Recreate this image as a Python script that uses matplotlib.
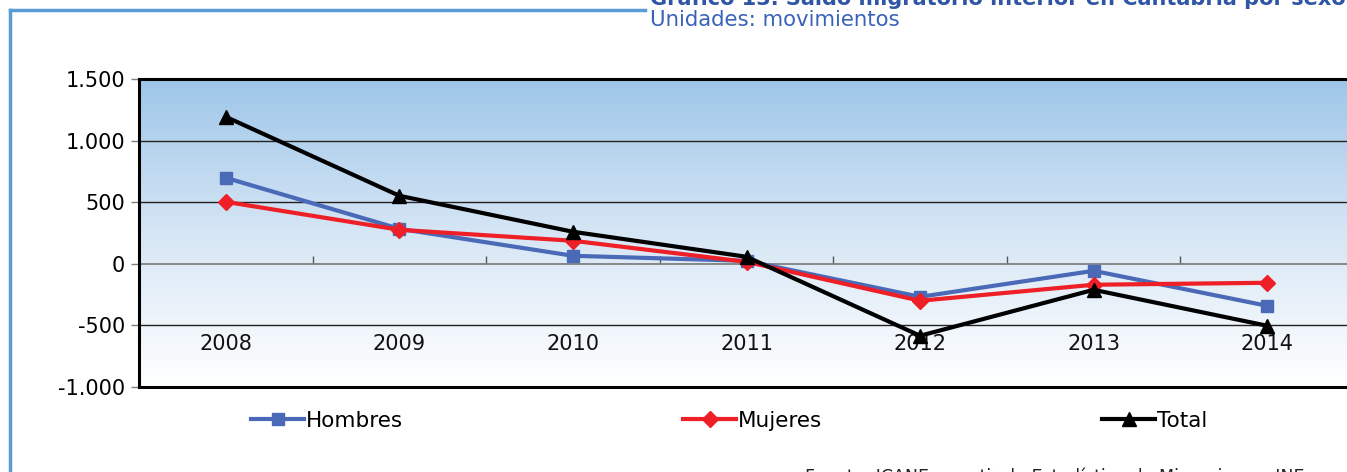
import matplotlib
matplotlib.use("Agg")
import matplotlib.pyplot as plt
from matplotlib.lines import Line2D
from matplotlib.colors import LinearSegmentedColormap
import numpy as np

years = ["2008", "2009", "2010", "2011", "2012", "2013", "2014"]
hombres = [698, 284, 65, 24, -268, -57, -341]
mujeres = [503, 276, 187, 16, -300, -170, -154]
total = [1193, 552, 260, 57, -584, -211, -503]
yticks = [-1000, -500, 0, 500, 1000, 1500]
ytick_labels = ["-1.000", "-500", "0", "500", "1.000", "1.500"]

W, H = 1347, 472
fig = plt.figure(figsize=(W / 100, H / 100), dpi=100)
plt.rcParams['font.family'] = ['DejaVu Sans']

# plot area (runs a bit past the right edge, as in the original)
ax = fig.add_axes([139 / W, 1 - 387 / H, (1354 - 139) / W, (387 - 79) / H])
x = np.arange(len(years))
ax.set_xlim(-0.5, len(years) - 0.5)
ax.set_ylim(-1000, 1500)

# background gradient
cmap = LinearSegmentedColormap.from_list("bg", ["#ffffff", "#d6e6f5", "#9ec6e9"])
grad = np.linspace(0, 1, 256).reshape(-1, 1)
ax.imshow(grad, cmap=cmap, aspect="auto", origin="lower",
          extent=[-0.5, len(years) - 0.5, -1000, 1500], zorder=0)

ax.set_yticks(yticks)
ax.set_yticklabels(ytick_labels, fontsize=15)
ax.tick_params(axis="y", length=6, width=1, color="#7f7f7f", pad=4)
ax.set_xticks([])
for yv in yticks[1:-1]:
    ax.axhline(yv, color="#7f7f7f" if yv == 0 else "#222222", lw=1.3 if yv == 0 else 1, zorder=1)

# category separators hanging from the zero line
sec = ax.secondary_xaxis(0.4)
sec.set_xticks(x[:-1] + 0.5)
sec.set_xticklabels([])
sec.tick_params(direction="in", length=6, color="#555555", width=1)
sec.spines["bottom"].set_visible(False)
sec.spines["top"].set_visible(False)

for xi, lab in zip(x, years):
    ax.text(xi, -650, lab, ha="center", va="center", fontsize=15, color="#111111")

for s in ["left", "top", "bottom"]:
    ax.spines[s].set_linewidth(2.2)
    ax.spines[s].set_color("#000000")
ax.spines["right"].set_visible(False)

l1, = ax.plot(x, hombres, color="#4a6ab8", lw=3, marker="s", ms=9, label="Hombres", zorder=3)
l2, = ax.plot(x, mujeres, color="#ee1f26", lw=3, marker="D", ms=8, label="Mujeres", zorder=4)
l3, = ax.plot(x, total, color="#000000", lw=3, marker="^", ms=10, label="Total", zorder=5)

fig.legend(handles=[l1, l2, l3], ncol=3, frameon=False, fontsize=15.5,
           loc="center left", bbox_to_anchor=(232 / W, 1 - 421 / H),
           handlelength=2.45, handletextpad=0.1, columnspacing=13.0)

# frame lines of the surrounding box
fig.add_artist(Line2D([10 / W, 645 / W], [1 - 10 / H, 1 - 10 / H], color="#5b9bd5", lw=2.5))
fig.add_artist(Line2D([10 / W, 10 / W], [1 - 10 / H, 0], color="#5b9bd5", lw=2.5))

fig.text(650 / W, 1 + 2 / H, "Gráfico 13. Saldo migratorio interior en Cantabria por sexo",
         fontsize=15, fontweight="bold", color="#2f55a4", ha="left", va="center")
fig.text(650 / W, 1 - 20 / H, "Unidades: movimientos", fontsize=15.3,
         color="#3a62b8", ha="left", va="center")
fig.text(805 / W, 1 - 477 / H, "Fuente: ICANE a partir de Estadística de Migraciones. INE",
         fontsize=12.5, color="#222222", ha="left", va="center")

fig.savefig("out.png", dpi=100)
